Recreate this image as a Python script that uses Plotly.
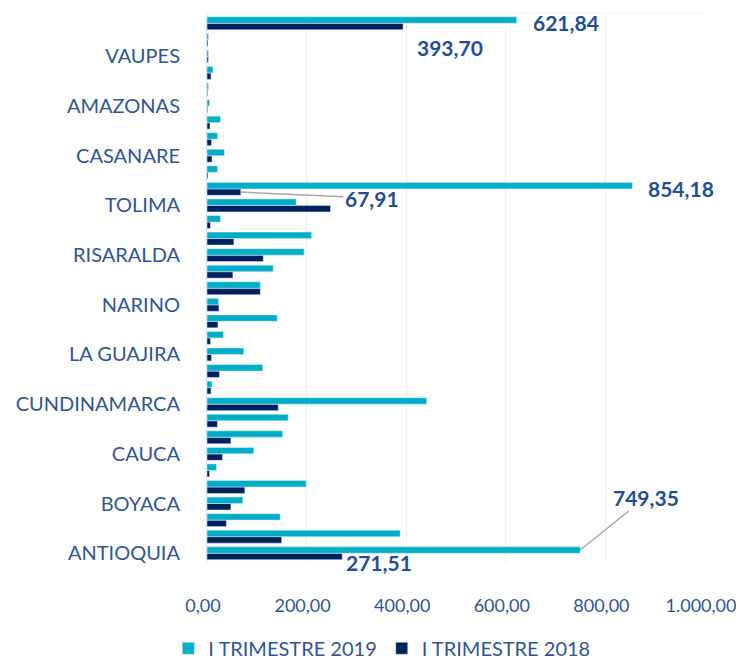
import plotly.graph_objects as go

categories = ["ANTIOQUIA", "ATLANTICO", "BOLIVAR", "BOYACA", "CALDAS", "CAQUETA", "CAUCA",
              "CESAR", "CORDOBA", "CUNDINAMARCA", "CHOCO", "HUILA", "LA GUAJIRA", "MAGDALENA",
              "META", "NARINO", "NORTE DE SANTANDER", "QUINDIO", "RISARALDA", "SANTANDER",
              "SUCRE", "TOLIMA", "VALLE DEL CAUCA", "ARAUCA", "CASANARE", "PUTUMAYO",
              "SAN ANDRES", "AMAZONAS", "GUAINIA", "GUAVIARE", "VAUPES", "VICHADA", "BOGOTA D.C."]
t2019 = [749.35, 388, 147, 72, 199, 19, 94, 152, 163, 441, 10, 112, 74, 33, 141, 23, 107,
         133, 195, 210, 27, 179, 854.18, 21, 35, 21, 27, 5, 3, 12, 3, 3, 621.84]
t2018 = [271.51, 150, 39, 48, 76, 5, 31, 48, 21, 143, 8, 25, 9, 7, 22, 24, 107,
         52, 113, 54, 7, 248, 67.91, 2, 10, 9, 6, 1.3, 1.3, 8, 2.7, 2, 393.70]
x_ticks = [0, 200, 400, 600, 800, 1000]
shown_labels = categories[::3]

CYAN = "#00AEC7"
NAVY = "#002060"
TXT = "#2F5597"
LBL = "#1F4E99"
FONT = "Lato"

fig = go.Figure()
fig.add_trace(go.Bar(y=categories, x=t2018, orientation="h", name="I TRIMESTRE 2018",
                     marker=dict(color=NAVY), legendrank=2))
fig.add_trace(go.Bar(y=categories, x=t2019, orientation="h", name="I TRIMESTRE 2019",
                     marker=dict(color=CYAN), legendrank=1))

off = 0.195
def idx(name):
    return categories.index(name)

ann_font = dict(family=FONT, size=21, color=LBL)
def fmt(v):
    s = f"{v:,.2f}"
    return s.replace(",", "X").replace(".", ",").replace("X", ".")

annotations = [
    dict(x=t2019[idx("BOGOTA D.C.")], y=idx("BOGOTA D.C.") + off, text="<b>%s</b>" % fmt(t2019[idx("BOGOTA D.C.")]),
         showarrow=False, xanchor="left", yanchor="middle", xshift=14, yshift=-2, font=ann_font),
    dict(x=t2018[idx("BOGOTA D.C.")], y=idx("BOGOTA D.C.") - off, text="<b>%s</b>" % fmt(t2018[idx("BOGOTA D.C.")]),
         showarrow=False, xanchor="left", yanchor="middle", xshift=12, yshift=-21, font=ann_font),
    dict(x=t2019[idx("VALLE DEL CAUCA")], y=idx("VALLE DEL CAUCA") + off, text="<b>%s</b>" % fmt(t2019[idx("VALLE DEL CAUCA")]),
         showarrow=False, xanchor="left", yanchor="middle", xshift=14, yshift=-3, font=ann_font),
    dict(x=t2018[idx("VALLE DEL CAUCA")], y=idx("VALLE DEL CAUCA") - off, text="<b>%s</b>" % fmt(t2018[idx("VALLE DEL CAUCA")]),
         showarrow=True, arrowhead=0, arrowwidth=1.5, arrowcolor="#A6A6A6", ax=131, ay=6,
         font=ann_font),
    dict(x=t2019[idx("ANTIOQUIA")], y=idx("ANTIOQUIA") + off, text="<b>%s</b>" % fmt(t2019[idx("ANTIOQUIA")]),
         showarrow=True, arrowhead=0, arrowwidth=1.5, arrowcolor="#A6A6A6", ax=66, ay=-53,
         font=ann_font),
    dict(x=t2018[idx("ANTIOQUIA")], y=idx("ANTIOQUIA") - off, text="<b>%s</b>" % fmt(t2018[idx("ANTIOQUIA")]),
         showarrow=False, xanchor="left", yanchor="middle", xshift=2, yshift=-6, font=ann_font),
]

# the page body adds an 8px offset, so the figure is 8px smaller and margins compensate
fig.update_layout(
    width=736, height=655,
    margin=dict(l=199, r=39, t=5, b=100, autoexpand=False),
    paper_bgcolor="white", plot_bgcolor="white",
    barmode="group", bargap=0.22, bargroupgap=0,
    separators=",.",
    font=dict(family=FONT, size=20, color=TXT),
    showlegend=True,
    legend=dict(orientation="h", x=0.351, xanchor="center", y=-0.155, yanchor="middle",
                font=dict(family=FONT, size=20, color=TXT), itemwidth=30),
    annotations=annotations,
    xaxis=dict(range=[0, 1000], tickvals=x_ticks, tickformat=",.2f", automargin=False,
               showgrid=True, gridcolor="#EEEEEE", gridwidth=1,
               zeroline=False, showline=False, ticks="", ticklabelstandoff=30,
               ticklabelshift=-4, ticklabeloverflow="allow",
               tickfont=dict(family=FONT, size=18, color=TXT)),
    yaxis=dict(type="category", categoryorder="array", categoryarray=categories,
               range=[-0.59, 32.62], tickvals=shown_labels, ticktext=shown_labels,
               automargin=False,
               showgrid=False, zeroline=False, showline=True, linecolor="#E3E3E3",
               ticks="", ticklabelstandoff=22,
               tickfont=dict(family=FONT, size=20, color=TXT)),
)
fig.add_shape(type="line", xref="paper", yref="paper", x0=0, x1=1, y0=1, y1=1,
              line=dict(color="#F2F2F2", width=1))

fig.write_html("out.html")
